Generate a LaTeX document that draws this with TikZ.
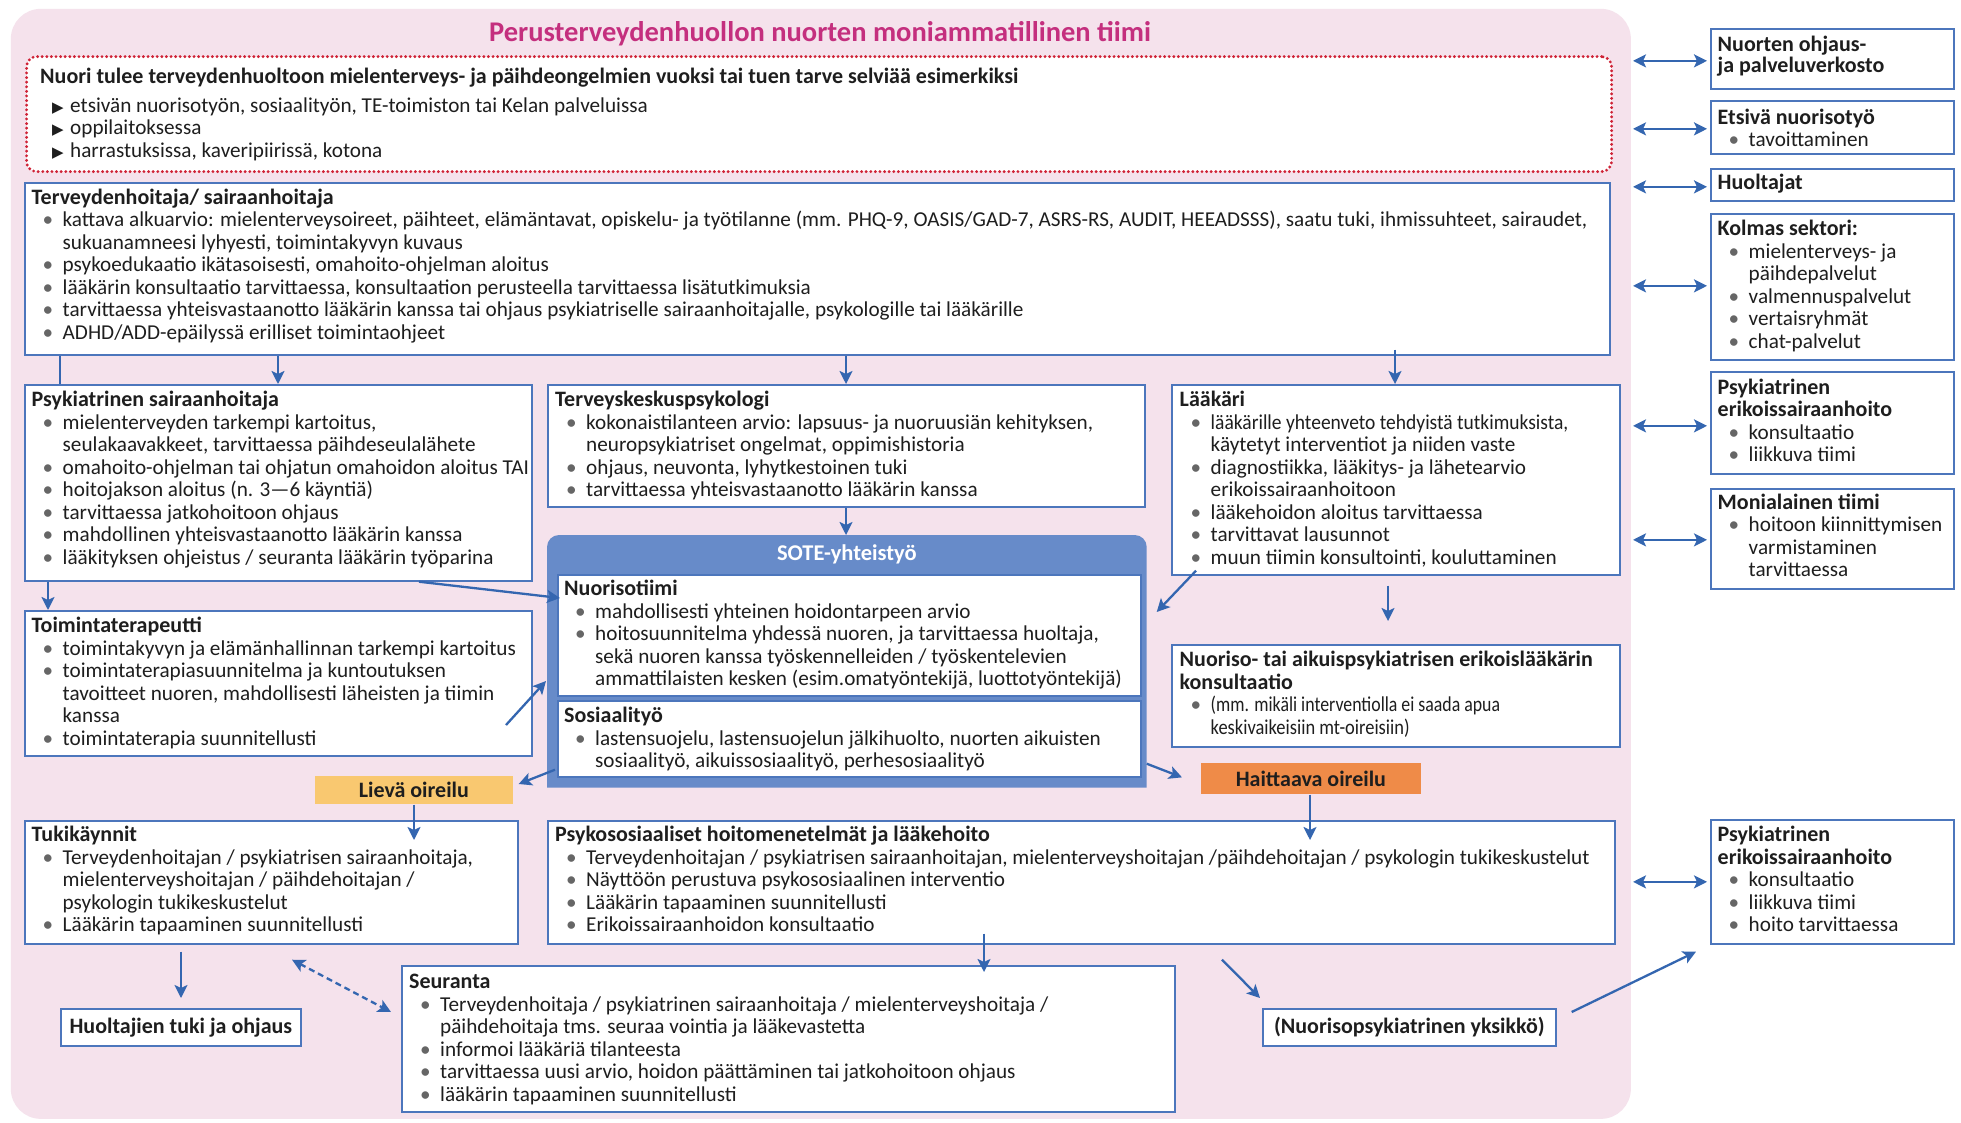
\documentclass[tikz,border=0pt]{standalone}
\usepackage{fontspec}
\usepackage{graphicx}
\setmainfont{Carlito}
\newfontfamily\symfont{DejaVu Sans}
\usetikzlibrary{arrows.meta,calc}

\definecolor{pinkbg}{HTML}{F5E2EC}
\definecolor{boxblue}{HTML}{4C76BC}
\definecolor{arrblue}{HTML}{3466B0}
\definecolor{sote}{HTML}{678BC9}
\definecolor{titlemag}{HTML}{C42F7E}
\definecolor{dotred}{HTML}{CF2236}
\definecolor{lieva}{HTML}{F9C870}
\definecolor{haitta}{HTML}{EF8B48}
\definecolor{txt}{HTML}{1E1E1E}
\definecolor{bul}{HTML}{666666}

\newcommand\bodyfont{\fontsize{21.2}{22.5}\selectfont}
\newcommand\headfont{\fontsize{22}{22.5}\selectfont\bfseries}
% one line of a text block: heading, bullet item, continuation, triangle item
\newcommand\hl[1]{\hbox{\headfont #1}}
\newcommand\bl[1]{\hbox{\hbox to 31pt{\hskip 11pt\textcolor{bul}{\textbullet}\hss}#1}}
\newcommand\cl[1]{\hbox{\hskip 31pt #1}}
\newcommand\tl[1]{\hbox{\hbox to 30pt{\hskip 12pt{\symfont\fontsize{15}{15}\selectfont ▶}\hss}#1}}
% horizontally condensed text
\newcommand\sq[2]{\scalebox{#1}[1]{#2}}

% box from (x1,y1) to (x2,y2), y measured downwards
\newcommand\mkbox[6][]{%
  \pgfmathsetmacro\bw{#5-#3}\pgfmathsetmacro\bh{#6-#4}%
  \node[box,minimum width=\bw pt,minimum height=\bh pt,#1] (#2) at (#3,#4) {};}

\tikzset{
  box/.style={rectangle, draw=boxblue, line width=1.7pt, fill=white, inner sep=0pt, anchor=north west},
  tb/.style={anchor=base west, inner sep=0pt, font=\bodyfont, text=txt},
  lbl/.style={inner sep=0pt, font=\headfont, text=txt},
  ln/.style={draw=arrblue, line width=2.3pt},
  tip/.tip={Stealth[length=13pt,width=13pt,inset=3pt]},
  arr/.style={ln, -tip},
  darr/.style={ln, tip-tip},
}

\begin{document}
\begin{tikzpicture}[x=1pt,y=-1pt]
\path[use as bounding box, fill=white] (0,0) rectangle (1961,1122);

% team area
\mkbox[draw=none, fill=pinkbg, rounded corners=30pt]{bg}{10}{8}{1630}{1118}
\node[inner sep=0pt, font=\fontsize{28.5}{30}\selectfont\bfseries, text=titlemag] (title) at (820,34)
  {Perusterveydenhuollon nuorten moniammatillinen tiimi};

% entry conditions
\mkbox[draw=dotred, line width=3.2pt, dash pattern=on 0pt off 4.6pt, line cap=round, rounded corners=10pt]{intro}{25}{55}{1610}{170}
\node[tb] (intro-t) at ($(intro.north west)+(15,28)$) {\vtop{%
  \hl{Nuori tulee terveydenhuoltoon mielenterveys- ja päihdeongelmien vuoksi tai tuen tarve selviää esimerkiksi}
  \vskip 6.5pt
  \tl{etsivän nuorisotyön, sosiaalityön, TE-toimiston tai Kelan palveluissa}
  \tl{oppilaitoksessa}
  \tl{harrastuksissa, kaveripiirissä, kotona}}};

% professionals
\mkbox{th}{24}{182}{1609}{354}
\node[tb] (th-t) at ($(th.north west)+(7.5,22)$) {\vtop{%
  \hl{Terveydenhoitaja/ sairaanhoitaja}
  \bl{kattava alkuarvio: mielenterveysoireet, päihteet, elämäntavat, opiskelu- ja työtilanne (mm. PHQ-9, OASIS/GAD-7, ASRS-RS, AUDIT, HEEADSSS), saatu tuki, ihmissuhteet, sairaudet,}
  \cl{sukuanamneesi lyhyesti, toimintakyvyn kuvaus}
  \bl{psykoedukaatio ikätasoisesti, omahoito-ohjelman aloitus}
  \bl{lääkärin konsultaatio tarvittaessa, konsultaation perusteella tarvittaessa lisätutkimuksia}
  \bl{tarvittaessa yhteisvastaanotto lääkärin kanssa tai ohjaus psykiatriselle sairaanhoitajalle, psykologille tai lääkärille}
  \bl{ADHD/ADD-epäilyssä erilliset toimintaohjeet}}};

\mkbox{ps}{24}{384}{531}{580}
\node[tb] (ps-t) at ($(ps.north west)+(7.5,22.5)$) {\vtop{%
  \hl{Psykiatrinen sairaanhoitaja}
  \bl{mielenterveyden tarkempi kartoitus,}
  \cl{seulakaavakkeet, tarvittaessa päihdeseulalähete}
  \bl{omahoito-ohjelman tai ohjatun omahoidon aloitus TAI}
  \bl{hoitojakson aloitus (n. 3—6 käyntiä)}
  \bl{tarvittaessa jatkohoitoon ohjaus}
  \bl{mahdollinen yhteisvastaanotto lääkärin kanssa}
  \bl{lääkityksen ohjeistus / seuranta lääkärin työparina}}};

\mkbox{tk}{547}{384}{1144}{506}
\node[tb] (tk-t) at ($(tk.north west)+(8,22.5)$) {\vtop{%
  \hl{Terveyskeskuspsykologi}
  \bl{kokonaistilanteen arvio: lapsuus- ja nuoruusiän kehityksen,}
  \cl{neuropsykiatriset ongelmat, oppimishistoria}
  \bl{ohjaus, neuvonta, lyhytkestoinen tuki}
  \bl{tarvittaessa yhteisvastaanotto lääkärin kanssa}}};

\mkbox{lk}{1171}{384}{1619}{574}
\node[tb] (lk-t) at ($(lk.north west)+(8.5,22.5)$) {\vtop{%
  \hl{Lääkäri}
  \bl{\sq{0.92}{lääkärille yhteenveto tehdyistä tutkimuksista,}}
  \cl{käytetyt interventiot ja niiden vaste}
  \bl{diagnostiikka, lääkitys- ja lähetearvio}
  \cl{erikoissairaanhoitoon}
  \bl{lääkehoidon aloitus tarvittaessa}
  \bl{tarvittavat lausunnot}
  \bl{muun tiimin konsultointi, kouluttaminen}}};

% SOTE cooperation: blue frame, rounded at the top only
\mkbox[draw=none, fill=none]{so}{547}{535}{1145}{786}
\fill[sote] (so.south west) {[rounded corners=12pt] -- (so.north west) -- (so.north east)} -- (so.south east) -- cycle;
\node[inner sep=0pt, font=\fontsize{22.5}{22.5}\selectfont\bfseries, text=white] (so-l) at ($(so.north)+(0,19)$) {SOTE-yhteistyö};
\mkbox{nt}{557}{574}{1140}{695}
\node[tb] (nt-t) at ($(nt.north west)+(7,21.5)$) {\vtop{%
  \hl{Nuorisotiimi}
  \bl{mahdollisesti yhteinen hoidontarpeen arvio}
  \bl{hoitosuunnitelma yhdessä nuoren, ja tarvittaessa huoltaja,}
  \cl{sekä nuoren kanssa työskennelleiden / työskentelevien}
  \cl{ammattilaisten kesken (esim.omatyöntekijä, luottotyöntekijä)}}};
\mkbox{sy}{557}{700}{1140}{776}
\node[tb] (sy-t) at ($(sy.north west)+(7,22.5)$) {\vtop{%
  \hl{Sosiaalityö}
  \bl{lastensuojelu, lastensuojelun jälkihuolto, nuorten aikuisten}
  \cl{sosiaalityö, aikuissosiaalityö, perhesosiaalityö}}};

\mkbox{tt}{24}{610}{531}{755}
\node[tb] (tt-t) at ($(tt.north west)+(7.5,22.5)$) {\vtop{%
  \hl{Toimintaterapeutti}
  \bl{toimintakyvyn ja elämänhallinnan tarkempi kartoitus}
  \bl{toimintaterapiasuunnitelma ja kuntoutuksen}
  \cl{tavoitteet nuoren, mahdollisesti läheisten ja tiimin}
  \cl{kanssa}
  \bl{toimintaterapia suunnitellusti}}};

\mkbox{ko}{1171}{644}{1619}{746}
\node[tb] (ko-t) at ($(ko.north west)+(8.5,22.5)$) {\vtop{%
  \hl{Nuoriso- tai aikuispsykiatrisen erikoislääkärin}
  \hl{konsultaatio}
  \bl{\sq{0.84}{(mm. mikäli interventiolla ei saada apua}}
  \cl{\sq{0.87}{keskivaikeisiin mt-oireisiin)}}}};

% severity
\mkbox[draw=none, fill=lieva]{lv}{314}{775}{512}{803}
\node[lbl] (lv-t) at (lv.center) {Lievä oireilu};
\mkbox[draw=none, fill=haitta]{ha}{1200}{762}{1420}{793}
\node[lbl] (ha-t) at (ha.center) {Haittaava oireilu};

% care
\mkbox{tu}{24}{820}{517}{943}
\node[tb] (tu-t) at ($(tu.north west)+(7.5,21.5)$) {\vtop{%
  \hl{Tukikäynnit}
  \bl{Terveydenhoitajan / psykiatrisen sairaanhoitaja,}
  \cl{mielenterveyshoitajan / päihdehoitajan /}
  \cl{psykologin tukikeskustelut}
  \bl{Lääkärin tapaaminen suunnitellusti}}};

\mkbox{pk}{547}{820}{1614}{943}
\node[tb] (pk-t) at ($(pk.north west)+(8,21.5)$) {\vtop{%
  \hl{Psykososiaaliset hoitomenetelmät ja lääkehoito}
  \bl{Terveydenhoitajan / psykiatrisen sairaanhoitajan, mielenterveyshoitajan /päihdehoitajan / psykologin tukikeskustelut}
  \bl{Näyttöön perustuva psykososiaalinen interventio}
  \bl{Lääkärin tapaaminen suunnitellusti}
  \bl{Erikoissairaanhoidon konsultaatio}}};

\mkbox{hu}{60}{1008}{300}{1045}
\node[lbl] (hu-t) at (hu.center) {Huoltajien tuki ja ohjaus};

\mkbox{se}{401}{965}{1174}{1111}
\node[tb] (se-t) at ($(se.north west)+(8,23.5)$) {\vtop{%
  \hl{Seuranta}
  \bl{Terveydenhoitaja / psykiatrinen sairaanhoitaja / mielenterveyshoitaja /}
  \cl{päihdehoitaja tms. seuraa vointia ja lääkevastetta}
  \bl{informoi lääkäriä tilanteesta}
  \bl{tarvittaessa uusi arvio, hoidon päättäminen tai jatkohoitoon ohjaus}
  \bl{lääkärin tapaaminen suunnitellusti}}};

\mkbox{ny}{1262}{1008}{1555}{1045}
\node[lbl] (ny-t) at (ny.center) {(Nuorisopsykiatrinen yksikkö)};

% partners outside the team
\mkbox{r1}{1710}{28}{1953}{88}
\node[tb] (r1-t) at ($(r1.north west)+(7.5,23.5)$) {\vtop{\baselineskip=21pt
  \hl{Nuorten ohjaus-}
  \hl{ja palveluverkosto}}};
\mkbox{r2}{1710}{100}{1953}{153}
\node[tb] (r2-t) at ($(r2.north west)+(7.5,24)$) {\vtop{%
  \hl{Etsivä nuorisotyö}
  \bl{tavoittaminen}}};
\mkbox{r3}{1710}{168}{1953}{200}
\node[tb] (r3-t) at ($(r3.north west)+(7.5,21)$) {\vtop{\hl{Huoltajat}}};
\mkbox{r4}{1710}{213}{1953}{359}
\node[tb] (r4-t) at ($(r4.north west)+(7.5,22.5)$) {\vtop{%
  \hl{Kolmas sektori:}
  \bl{mielenterveys- ja}
  \cl{päihdepalvelut}
  \bl{valmennuspalvelut}
  \bl{vertaisryhmät}
  \bl{chat-palvelut}}};
\mkbox{r5}{1710}{371}{1953}{473}
\node[tb] (r5-t) at ($(r5.north west)+(7.5,23)$) {\vtop{%
  \hl{Psykiatrinen}
  \hl{erikoissairaanhoito}
  \bl{konsultaatio}
  \bl{liikkuva tiimi}}};
\mkbox{r6}{1710}{488}{1953}{588}
\node[tb] (r6-t) at ($(r6.north west)+(7.5,21)$) {\vtop{%
  \hl{Monialainen tiimi}
  \bl{hoitoon kiinnittymisen}
  \cl{varmistaminen}
  \cl{tarvittaessa}}};
\mkbox{r7}{1710}{819}{1953}{943}
\node[tb] (r7-t) at ($(r7.north west)+(7.5,22.5)$) {\vtop{%
  \hl{Psykiatrinen}
  \hl{erikoissairaanhoito}
  \bl{konsultaatio}
  \bl{liikkuva tiimi}
  \bl{hoito tarvittaessa}}};

% connectors inside the team
\draw[ln]  ($(th.south west)+(36,0)$) -- ($(ps.north west)+(36,0)$);
\draw[arr] ($(th.south west)+(254,0)$) -- ($(ps.north west)+(254,0)$);
\draw[arr] ($(th.south west)+(822,0)$) -- ($(tk.north west)+(299,0)$);
\draw[arr] ($(th.south west)+(1371,-6)$) -- ($(lk.north west)+(224,0)$);
\draw[arr] ($(ps.south west)+(24,0)$) -- ($(tt.north west)+(24,0)$);
\draw[arr] ($(tk.south west)+(299,0)$) -- ($(so.north west)+(299,0)$);
\draw[arr] ($(ps.south west)+(395,0)$) -- ($(nt.north west)+(3,24)$);
\draw[arr] ($(tt.north west)+(482,115)$) -- ($(so.north west)+(-1,146)$);
\draw[arr] ($(lk.south west)+(25,-5)$) -- ($(so.north east)+(10,77)$);
\draw[arr] ($(lk.south west)+(217,10)$) -- ($(ko.north west)+(217,-23)$);
\draw[arr] ($(so.south west)+(8,-18)$) -- ($(lv.north east)+(5,9)$);
\draw[arr] ($(so.south east)+(0,-24)$) -- ($(ha.west)+(-18,-1)$);
\draw[arr] ($(lv.south west)+(100,0)$) -- ($(tu.north west)+(390,20)$);
\draw[arr] ($(ha.south west)+(110,0)$) -- ($(pk.north west)+(763,20)$);
\draw[arr] ($(pk.south west)+(437,-11)$) -- ($(se.north west)+(583,7)$);
\draw[arr] ($(tu.south west)+(157,7)$) -- ($(hu.north west)+(121,-10)$);
\draw[darr, dash pattern=on 6pt off 4pt] ($(tu.south west)+(268,15)$) -- ($(se.north west)+(-10,47)$);
\draw[arr] ($(pk.south west)+(675,15)$) -- ($(ny.north west)+(-2,-10)$);
\draw[arr] ($(ny.north east)+(15,4)$) -- ($(r7.south west)+(-14,7)$);

% links to outside partners
\draw[darr] ($(r1.west)+(-77,2)$) -- ($(r1.west)+(-3,2)$);
\draw[darr] ($(r2.west)+(-77,1.5)$) -- ($(r2.west)+(-3,1.5)$);
\draw[darr] ($(r3.west)+(-77,2)$) -- ($(r3.west)+(-3,2)$);
\draw[darr] ($(r4.west)+(-77,-1)$) -- ($(r4.west)+(-3,-1)$);
\draw[darr] ($(r5.west)+(-77,3)$) -- ($(r5.west)+(-3,3)$);
\draw[darr] ($(r6.west)+(-77,1)$) -- ($(r6.west)+(-3,1)$);
\draw[darr] ($(r7.west)+(-77,0)$) -- ($(r7.west)+(-3,0)$);
\end{tikzpicture}
\end{document}
